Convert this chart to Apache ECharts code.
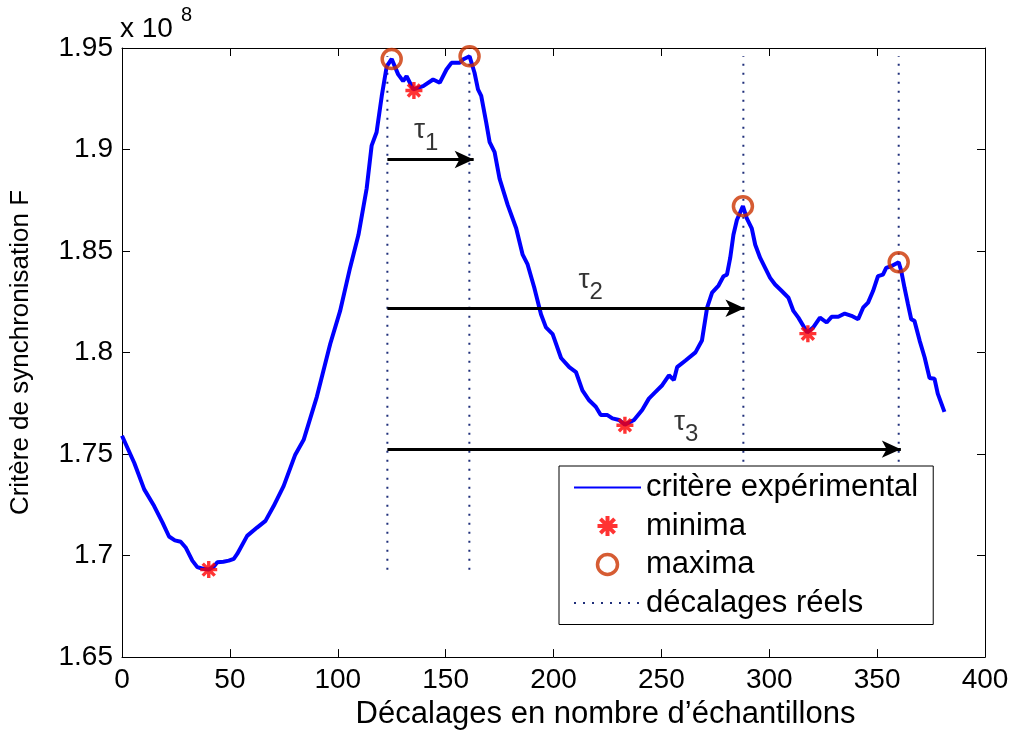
<!DOCTYPE html>
<html><head><meta charset="utf-8">
<script src="https://cdn.jsdelivr.net/npm/echarts@6/dist/echarts.min.js"></script>
<style>html,body{margin:0;padding:0;background:#fff}#c{width:1019px;height:735px}</style>
</head><body><div id="c"></div>
<script>
// ---- data (values in units of 1e8) ----
const sampleX = [0,5.7,10.3,14.9,18.8,21.8,24.5,27.2,29.5,32.6,34.9,37.5,40.2,42.5,44.2,47,49.5,51.8,53.4,58,62.6,66.5,70.3,74.9,80.3,84.2,90.3,96.5,101.1,105.7,109.6,113.4,115.7,118,120.4,122.7,125,128,130.3,131.9,135,139.6,144.2,147.3,150.4,152.7,156.5,158,161.1,163.4,165,166.5,168.8,170.4,172.7,175,178.8,182.7,185.7,188,191.1,194.2,196.5,199.6,203.5,207.3,210.4,213.4,216.5,219.6,221.9,225,227.3,230.4,233.1,237.3,241.1,244.2,247.3,250.4,253.5,255.8,257.3,261.2,265.8,268.8,271.2,273.5,276.5,278.8,280.4,281.9,283.4,285,287.8,289.6,291.9,293.5,295.8,298.1,300.4,302.7,305.8,308.9,311.2,313.5,317.6,320.4,323.5,326.6,328.9,332,335,338.1,341.2,343.5,345.8,348.1,350.4,352.7,354.2,356.5,360,361.2,362.7,364.3,365.8,367.3,369.7,372,374.3,376.6,378.1,381.2];
const critere = [1.759,1.7456,1.7326,1.7244,1.7162,1.7094,1.7075,1.7068,1.704,1.6975,1.6943,1.6935,1.6931,1.6945,1.6967,1.697,1.6975,1.6984,1.7008,1.7097,1.7138,1.7171,1.7244,1.7342,1.7497,1.757,1.7782,1.8042,1.8205,1.8417,1.858,1.8808,1.9019,1.9085,1.9264,1.941,1.9446,1.937,1.9337,1.9361,1.9296,1.9312,1.9345,1.9329,1.9394,1.9427,1.9427,1.9443,1.9459,1.9378,1.9296,1.9264,1.9134,1.9036,1.8987,1.8857,1.8726,1.8612,1.8482,1.8434,1.8319,1.8189,1.8124,1.8091,1.7973,1.7928,1.7904,1.7814,1.7765,1.7733,1.7692,1.7692,1.7676,1.7668,1.7645,1.7668,1.7717,1.7773,1.7806,1.7839,1.7888,1.7865,1.7928,1.7961,1.8001,1.8059,1.8221,1.8295,1.833,1.8376,1.8384,1.8466,1.858,1.8653,1.8721,1.8661,1.8612,1.8531,1.8466,1.8417,1.8368,1.8335,1.8303,1.827,1.8205,1.8172,1.8099,1.8124,1.8172,1.8148,1.8176,1.8176,1.8192,1.8181,1.8164,1.8221,1.8246,1.8303,1.8376,1.8384,1.8417,1.8425,1.8445,1.8401,1.8319,1.8238,1.8164,1.8156,1.8059,1.7977,1.7875,1.7871,1.7798,1.7708];
const minimaX = [40.2,135.3,233.1,317.9];
const minimaY = [1.6931,1.9291,1.7642,1.8093];
const maximaX = [125,161.1,287.8,360];
const maximaY = [1.9446,1.9459,1.8721,1.8445];
const delays = [123,161,288,360];          // true offsets (dotted lines)
const delayRange = [1.693,1.946];           // vertical extent of dotted lines
const arrowStart = 123;
const arrowEnd = [163,288.5,361];
const arrowY = [1.8951,1.8218,1.7524];
const tauSub = ['1','2','3'];
const tauX = [141,217.2,261.5];
const tauY = [1.9096,1.8358,1.7659];
const xTicks = {min:0,max:400,interval:50};
const yTicks = {min:1.65,max:1.95,interval:0.05};
const names = ['critère expérimental','minima','maxima','décalages réels'];

const FONT = "'Liberation Sans', Arial, sans-serif";
const BLUE = '#0000ff', RED = '#ff0000', ORANGE = '#cc3300', DOT = '#1f2f7a';
const STAR = 'path://M8 0L12 0L12 20L8 20Z M0 8L20 8L20 12L0 12Z M4.34 1.51L18.49 15.66L15.66 18.49L1.51 4.34Z M18.49 4.34L4.34 18.49L1.51 15.66L15.66 1.51Z';

const chart = echarts.init(document.getElementById('c'), null, {renderer:'canvas'});

const axisCommon = {
  type:'value', splitLine:{show:false},
  axisLine:{show:true,onZero:false,lineStyle:{color:'#000',width:1}},
  axisTick:{show:true,inside:true,length:8,lineStyle:{color:'#000',width:1}}
};

const series = [];
delays.forEach((d,i)=>{
  series.push({name:names[3], type:'line', z:1, symbol:'none', silent:true, color:DOT,
    lineStyle:{color:DOT,width:2,type:[2,7]},
    data:[[d,delayRange[0]],[d,delayRange[1]]]});
});
series.push({name:names[0], type:'line', z:2, symbol:'none', silent:true, color:BLUE,
  lineStyle:{color:BLUE,width:4}, data:sampleX.map((x,i)=>[x,critere[i]])});
series.push({name:names[1], type:'scatter', z:3, symbol:STAR, symbolSize:17, silent:true,
  itemStyle:{color:RED}, data:minimaX.map((x,i)=>[x,minimaY[i]])});
series.push({name:names[2], type:'scatter', z:3, symbol:'circle', symbolSize:19, silent:true,
  itemStyle:{color:'rgba(0,0,0,0)',borderColor:ORANGE,borderWidth:3.5}, data:maximaX.map((x,i)=>[x,maximaY[i]])});
series.push({name:'arrows', type:'line', z:4, data:[], silent:true,
  markLine:{silent:true, symbol:['none','arrow'], symbolSize:[13,19], animation:false,
    label:{show:false}, lineStyle:{color:'#000',width:3,type:'solid'},
    emphasis:{disabled:true},
    data:arrowY.map((y,i)=>[{coord:[arrowStart,y]},{coord:[arrowEnd[i],y]}])}});
series.push({name:'tau', type:'scatter', z:5, symbolSize:1, silent:true,
  itemStyle:{color:'rgba(0,0,0,0)'},
  label:{show:true, position:'inside', color:'#000', fontFamily:FONT,
    formatter:p=>'{t|τ}{s|'+p.data[2]+'}',
    rich:{t:{fontSize:28,lineHeight:50,fontFamily:FONT,color:'#000'},
          s:{fontSize:24,lineHeight:24,verticalAlign:'bottom',fontFamily:FONT,color:'#000'}}},
  data:tauX.map((x,i)=>[x,tauY[i],tauSub[i]])});

chart.setOption({
  animation:false,
  backgroundColor:'#fff',
  textStyle:{fontFamily:FONT},
  grid:{left:121,right:34,top:48,bottom:73,containLabel:false},
  xAxis:[
    Object.assign({}, axisCommon, xTicks, {position:'bottom',
      axisLabel:{fontSize:28,color:'#000',margin:9,fontFamily:FONT},
      name:'Décalages en nombre d’échantillons', nameLocation:'middle', nameGap:35,
      nameTextStyle:{fontSize:31,color:'#000',fontFamily:FONT,padding:[0,0,0,104]}}),
    Object.assign({}, axisCommon, xTicks, {position:'top', axisLabel:{show:false}})
  ],
  yAxis:[
    Object.assign({}, axisCommon, yTicks, {position:'left',
      axisLabel:{fontSize:28,color:'#000',margin:9,fontFamily:FONT},
      name:'Critère de synchronisation F', nameLocation:'middle', nameGap:88,
      nameTextStyle:{fontSize:26,color:'#000',fontFamily:FONT}}),
    Object.assign({}, axisCommon, yTicks, {position:'right', axisLabel:{show:false}})
  ],
  legend:{
    orient:'vertical', left:559, top:466, padding:[6,15,6,14], itemGap:7.5,
    itemWidth:67, itemHeight:20, backgroundColor:'#fff', borderColor:'#000', borderWidth:1,
    textStyle:{fontSize:31,color:'#000',lineHeight:31,fontFamily:FONT},
    selectedMode:false,
    data:[
      {name:names[0], itemStyle:{opacity:0}},
      {name:names[1], icon:STAR, itemStyle:{color:RED}},
      {name:names[2], icon:'circle', itemStyle:{color:'rgba(0,0,0,0)',borderColor:ORANGE,borderWidth:3.5}},
      {name:names[3], itemStyle:{opacity:0}}
    ]
  },
  graphic:[
    {type:'text', x:120, y:29.5, style:{text:'x 10', fontSize:28, fill:'#000', fontFamily:FONT, verticalAlign:'middle', align:'left'}},
    {type:'text', x:181, y:15, style:{text:'8', fontSize:20, fill:'#000', fontFamily:FONT, verticalAlign:'middle', align:'left'}}
  ],
  series:series
});
</script></body></html>
